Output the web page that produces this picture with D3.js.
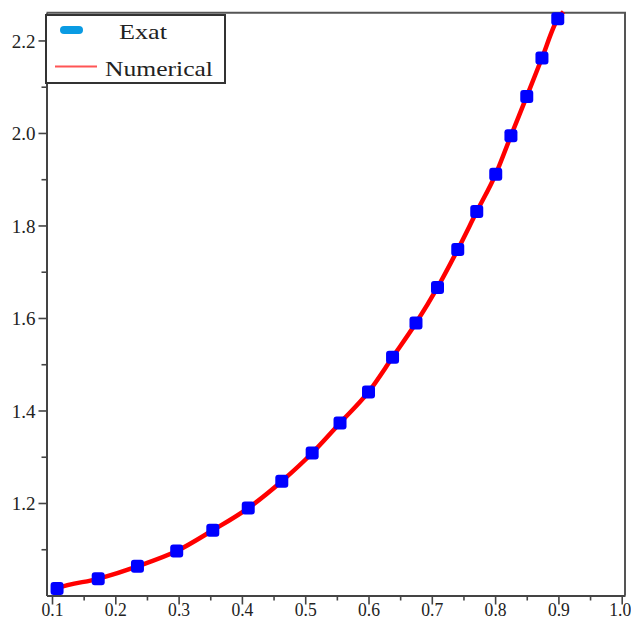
<!DOCTYPE html>
<html>
<head>
<meta charset="utf-8">
<script src="https://cdn.jsdelivr.net/npm/d3@7"></script>
<style>
  body { margin: 0; background: #fff; }
  svg { display: block; }
  svg text { font-family: "Liberation Serif", "DejaVu Serif", serif; fill: #222; }
</style>
</head>
<body>
<div id="chart"></div>
<script>
// values
var exatX = [0.108, 0.173, 0.235, 0.297, 0.354, 0.410, 0.463, 0.511, 0.555, 0.600,
             0.638, 0.675, 0.709, 0.741, 0.771, 0.801, 0.825, 0.850, 0.874, 0.899];
var exatY = [1.015, 1.036, 1.063, 1.096, 1.141, 1.189, 1.247, 1.308, 1.373, 1.440,
             1.515, 1.589, 1.666, 1.748, 1.830, 1.911, 1.994, 2.079, 2.162, 2.247];
var numX = [0.100, 0.108, 0.173, 0.235, 0.297, 0.354, 0.410, 0.463, 0.511, 0.555, 0.600,
            0.638, 0.675, 0.709, 0.741, 0.771, 0.801, 0.825, 0.850, 0.874, 0.899, 0.908];
var numY = [1.010, 1.015, 1.036, 1.063, 1.096, 1.141, 1.189, 1.247, 1.308, 1.373, 1.440,
            1.515, 1.589, 1.666, 1.748, 1.830, 1.911, 1.994, 2.079, 2.162, 2.247, 2.262];
var xTicks = [0.1, 0.2, 0.3, 0.4, 0.5, 0.6, 0.7, 0.8, 0.9, 1.0];
var xMinor = [0.15, 0.25, 0.35, 0.45, 0.55, 0.65, 0.75, 0.85, 0.95];
var yTicks = [1.2, 1.4, 1.6, 1.8, 2.0, 2.2];
var yMinor = [1.1, 1.3, 1.5, 1.7, 1.9, 2.1];
var legendNames = ["Exat", "Numerical"];

var W = 631, H = 622;
// plot box edges (note: "top" is reserved on window, so use other names)
var pLeft = 46.5, pRight = 625, pTop = 12.7, pBottom = 595.5;

var svg = d3.select("#chart").append("svg")
    .attr("width", W).attr("height", H);

var x = d3.scaleLinear().domain([0.0913, 1.0052]).range([pLeft, pRight]);
var y = d3.scaleLinear().domain([1.0, 2.26]).range([pBottom, pTop]);

// frame (top + right)
svg.append("path")
    .attr("d", "M" + pLeft + "," + pTop + "H" + pRight + "V" + pBottom)
    .attr("fill", "none").attr("stroke", "#555").attr("stroke-width", 2);

// x axis
var gx = svg.append("g").attr("transform", "translate(0," + pBottom + ")");
gx.call(d3.axisBottom(x).tickValues(xTicks).tickFormat(d3.format(".1f"))
      .tickSize(9).tickSizeOuter(0));
gx.append("g").call(d3.axisBottom(x).tickValues(xMinor).tickFormat("").tickSize(5).tickSizeOuter(0))
  .select(".domain").remove();

// y axis
var gy = svg.append("g").attr("transform", "translate(" + pLeft + ",0)");
gy.call(d3.axisLeft(y).tickValues(yTicks).tickFormat(d3.format(".1f"))
      .tickSize(8).tickSizeOuter(0));
gy.append("g").call(d3.axisLeft(y).tickValues(yMinor).tickFormat("").tickSize(5).tickSizeOuter(0))
  .select(".domain").remove();

svg.selectAll(".domain").attr("stroke", "#444").attr("stroke-width", 2);
svg.selectAll(".tick line").attr("stroke", "#444").attr("stroke-width", 1.6);
svg.selectAll(".tick text").style("font-size", "19px").attr("fill", "#222")
    .style("font-family", "'Liberation Serif', serif");
gy.selectAll(".tick text").attr("x", -11).attr("dy", "0.35em");
gx.selectAll(".tick text").style("font-size", "18px").attr("y", 20.5).attr("dy", 0)
    .attr("textLength", 22).attr("lengthAdjust", "spacingAndGlyphs");
// keep the last label inside the window
gx.selectAll(".tick text").filter(function(d) { return d === 1.0; })
    .attr("text-anchor", "end").attr("x", 9);

// numerical line
var pts = numX.map(function(d, i) { return [d, numY[i]]; });
var line = d3.line()
    .x(function(d) { return x(d[0]); })
    .y(function(d) { return y(d[1]); })
    .curve(d3.curveMonotoneX);
svg.append("path").datum(pts)
    .attr("d", line)
    .attr("fill", "none").attr("stroke", "#ff0000").attr("stroke-width", 4.5);

// exact markers
svg.selectAll("rect.exat")
    .data(exatX)
    .enter().append("rect")
    .attr("class", "exat")
    .attr("x", function(d) { return x(d) - 6.5; })
    .attr("y", function(d, i) { return y(exatY[i]) - 6.5; })
    .attr("width", 13).attr("height", 13).attr("rx", 3)
    .attr("fill", "#0000ff");

// legend
var lg = svg.append("g");
lg.append("rect").attr("x", 46).attr("y", 15).attr("width", 179).attr("height", 68)
    .attr("fill", "#fff").attr("stroke", "#333").attr("stroke-width", 2);
lg.append("rect").attr("x", 60).attr("y", 26).attr("width", 23).attr("height", 8).attr("rx", 4)
    .attr("fill", "#0a9be3");
lg.append("line").attr("x1", 55).attr("x2", 97).attr("y1", 66.5).attr("y2", 66.5)
    .attr("stroke", "#ff5555").attr("stroke-width", 2);
lg.append("text").attr("x", 119).attr("y", 38.5).text(legendNames[0])
    .style("font-size", "21px").attr("textLength", 48).attr("lengthAdjust", "spacingAndGlyphs");
lg.append("text").attr("x", 105).attr("y", 75.5).text(legendNames[1])
    .style("font-size", "22px").attr("textLength", 108).attr("lengthAdjust", "spacingAndGlyphs");
</script>
</body>
</html>
